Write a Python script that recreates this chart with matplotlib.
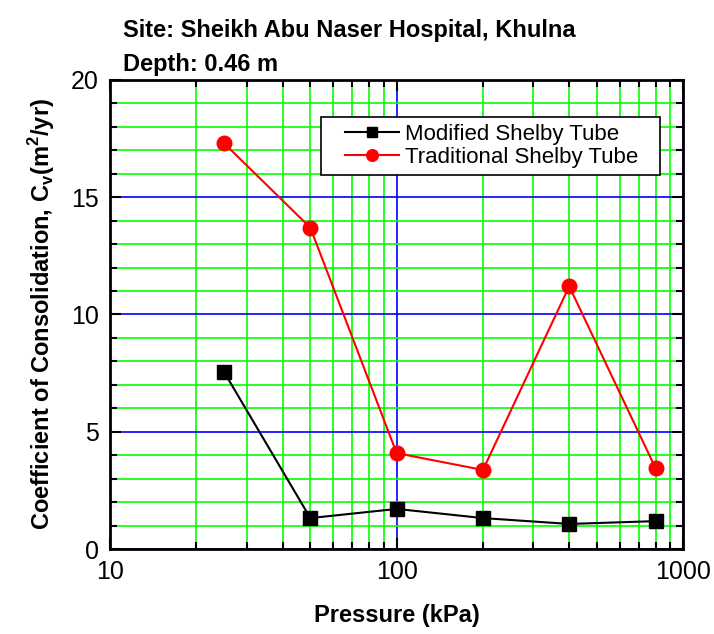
import numpy as np
import matplotlib.pyplot as plt
from matplotlib.patches import Rectangle
from matplotlib.ticker import LogLocator, MultipleLocator, FixedLocator, NullFormatter

plt.rcParams['font.family'] = ['Liberation Sans', 'DejaVu Sans']

# consolidation test results
pressure = [25, 50, 100, 200, 400, 800]
cv_modified = [7.55, 1.32, 1.71, 1.32, 1.07, 1.19]
cv_traditional = [17.3, 13.7, 4.09, 3.37, 11.2, 3.45]

fig = plt.figure(figsize=(7.14, 6.34), dpi=100)
ax = fig.add_axes([0.154, 0.134, 0.803, 0.740])

ax.set_xscale('log')
ax.set_xlim(10, 1000)
ax.set_ylim(0, 20)

# minor grid in green, major grid in blue
ax.xaxis.set_major_locator(FixedLocator([10, 100, 1000]))
ax.xaxis.set_minor_locator(LogLocator(base=10, subs=np.arange(2, 10)))
ax.xaxis.set_minor_formatter(NullFormatter())
ax.set_xticklabels(['10', '100', '1000'])
ax.yaxis.set_major_locator(MultipleLocator(5))
ax.yaxis.set_minor_locator(MultipleLocator(1))
ax.grid(which='minor', color='#00ff00', lw=1.2)
ax.grid(which='major', color='#0000ff', lw=1.2)
ax.set_axisbelow(True)

ax.plot(pressure, cv_modified, color='black', marker='s', ms=9.5, lw=1.5,
        label='Modified Shelby Tube', clip_on=False, zorder=3)
ax.plot(pressure, cv_traditional, color='red', marker='o', ms=10.5, lw=1.5,
        label='Traditional Shelby Tube', clip_on=False, zorder=3)

ax.tick_params(which='both', direction='in', top=True, right=True, width=1.5,
               labelsize=18, pad=8)
ax.tick_params(which='major', length=8)
ax.tick_params(which='minor', length=5)
for s in ax.spines.values():
    s.set_linewidth(2)

ax.set_xlabel('Pressure (kPa)', fontsize=17, fontweight='bold', labelpad=14)
ax.set_ylabel(r'Coefficient of Consolidation, C$_\mathregular{v}$(m$^\mathregular{2}$/yr)',
              fontsize=17, fontweight='bold', labelpad=10)

fig.text(0.172, 0.970, 'Site: Sheikh Abu Naser Hospital, Khulna', fontsize=17,
         fontweight='bold', va='top')
fig.text(0.172, 0.917, 'Depth: 0.46 m', fontsize=17, fontweight='bold', va='top')

# legend box with wide side margins
box = Rectangle((0.368, 0.797), 0.592, 0.124, transform=ax.transAxes,
                facecolor='white', edgecolor='black', lw=1.2, zorder=4)
ax.add_patch(box)
leg = ax.legend(loc='center', bbox_to_anchor=(0.666, 0.859), borderaxespad=0,
                fontsize=16, frameon=False, borderpad=0, labelspacing=0.1,
                handlelength=2.4, handletextpad=0.3, markerscale=0.8)
leg.set_zorder(5)

plt.savefig('out.png', dpi=100)
